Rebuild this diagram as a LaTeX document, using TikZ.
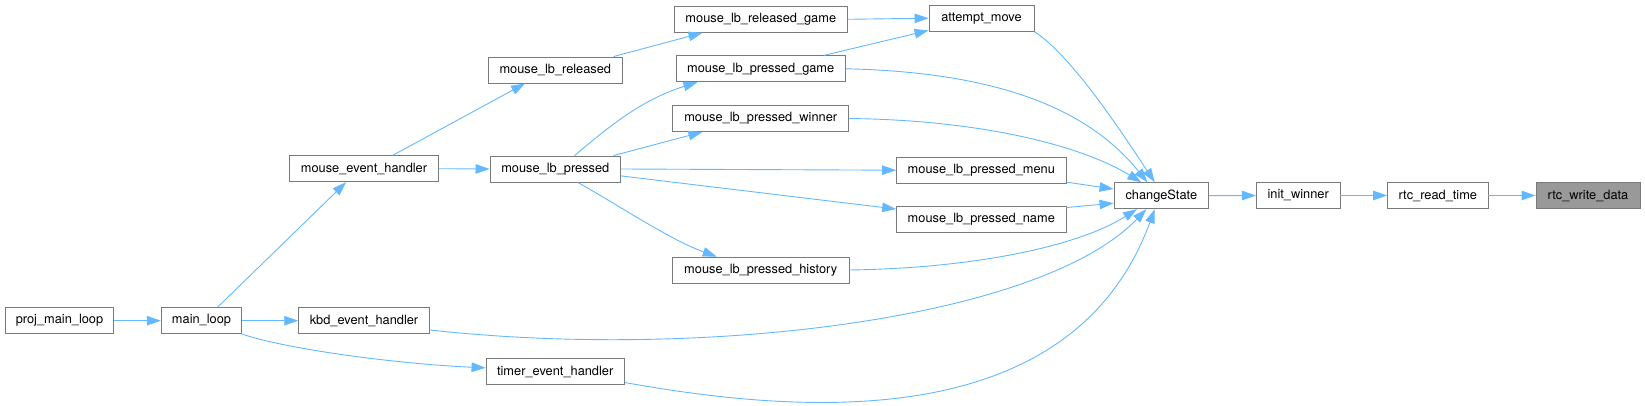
\documentclass[tikz,border=0pt]{standalone}
\usepackage{fontspec}
\setmainfont{TeX Gyre Heros}
\usepackage{tikz}
\usepackage{xcolor}
\usetikzlibrary{arrows.meta}
\definecolor{boxline}{HTML}{7A7A7A}
\definecolor{boxhit}{HTML}{999999}
\definecolor{callline}{HTML}{63B8FF}

\begin{document}
\begin{tikzpicture}[x=1pt,y=-1pt,
  fn/.style={draw=boxline, fill=white, line width=0.9pt, minimum height=26pt, inner sep=0pt, font=\fontsize{12.8}{14}\selectfont},
  hit/.style={fn, fill=boxhit},
  call/.style={draw=callline, line width=0.9pt, -{Triangle[length=14pt,width=9.5pt]}}]
  \useasboundingbox (0,0) rectangle (1645,406);
  % boxes
  \node[fn, minimum width=108.6pt] (projmain) at (59.5,320.7) {proj\_main\_loop};
  \node[fn, minimum width=80.4pt] (mainloop) at (201.5,320.7) {main\_loop};
  \node[fn, minimum width=148.6pt] (mouseev) at (364,168.7) {mouse\_event\_handler};
  \node[fn, minimum width=130.6pt] (kbdev) at (364,320.7) {kbd\_event\_handler};
  \node[fn, minimum width=138.4pt] (timerev) at (555.2,371.5) {timer\_event\_handler};
  \node[fn, minimum width=133.4pt] (lbrel) at (555.3,70) {mouse\_lb\_released};
  \node[fn, minimum width=130.6pt] (lbpress) at (555.3,169) {mouse\_lb\_pressed};
  \node[fn, minimum width=173pt] (relgame) at (760.8,19.3) {mouse\_lb\_released\_game};
  \node[fn, minimum width=169.4pt] (pgame) at (760.7,68.8) {mouse\_lb\_pressed\_game};
  \node[fn, minimum width=176pt] (pwinner) at (760.7,118.5) {mouse\_lb\_pressed\_winner};
  \node[fn, minimum width=176.6pt] (phist) at (760.7,270) {mouse\_lb\_pressed\_history};
  \node[fn, minimum width=169.4pt] (pmenu) at (981.3,170.2) {mouse\_lb\_pressed\_menu};
  \node[fn, minimum width=169.4pt] (pname) at (981.3,219.5) {mouse\_lb\_pressed\_name};
  \node[fn, minimum width=105pt] (move) at (981.5,18.2) {attempt\_move};
  \node[fn, minimum width=94.6pt] (state) at (1161.3,195.7) {changeState};
  \node[fn, minimum width=83.6pt] (winner) at (1298.2,195.5) {init\_winner};
  \node[fn, minimum width=100.4pt] (readtime) at (1437.8,195.5) {rtc\_read\_time};
  \node[hit, minimum width=104pt] (writedata) at (1588,195.5) {rtc\_write\_data};
  % calls, left part
  \draw[call] (projmain.east) -- (mainloop.west);
  \draw[call] (mainloop.40) -- (mouseev.217);
  \draw[call] (mainloop.east) -- (kbdev.west);
  \draw[call] (mainloop.south east) .. controls (290,350) and (400,364) .. (timerev.177);
  \draw[call] (mouseev.25) -- (lbrel.204);
  \draw[call] (mouseev.east) -- (lbpress.west);
  \draw[call] (lbrel.13) -- (relgame.193);
  \draw[call] (lbpress.35) .. controls (605,130) and (640,100) .. (pgame.192);
  \draw[call] (lbpress.13) -- (pwinner.193);
  \draw[call] (lbpress.east) -- (pmenu.west);
  \draw[call] (lbpress.-6) -- (pname.173);
  \draw[call] (lbpress.-31) .. controls (610,200) and (670,240) .. (phist.163.5);
  \draw[call] (relgame.east) -- (move.west);
  \draw[call] (pgame.12) -- (move.193);
  % calls into changeState
  \draw[call] (move.south east) .. controls (1070,55) and (1115,122) .. (state.116);
  \draw[call] (pgame.east) .. controls (990,72) and (1085,105) .. (state.136);
  \draw[call] (pwinner.east) .. controls (980,120) and (1080,145) .. (state.146);
  \draw[call] (pmenu.-8) -- (state.172);
  \draw[call] (pname.8) -- (state.189);
  \draw[call] (phist.east) .. controls (980,268) and (1080,245) .. (state.209);
  \draw[call] (kbdev.-8) .. controls (700,360) and (1040,320) .. (state.222);
  \draw[call] (timerev.-9) .. controls (790,412) and (1070,440) .. (state.244);
  % right chain
  \draw[call] (state.east) -- (winner.west);
  \draw[call] (winner.east) -- (readtime.west);
  \draw[call] (readtime.east) -- (writedata.west);
\end{tikzpicture}
\end{document}
